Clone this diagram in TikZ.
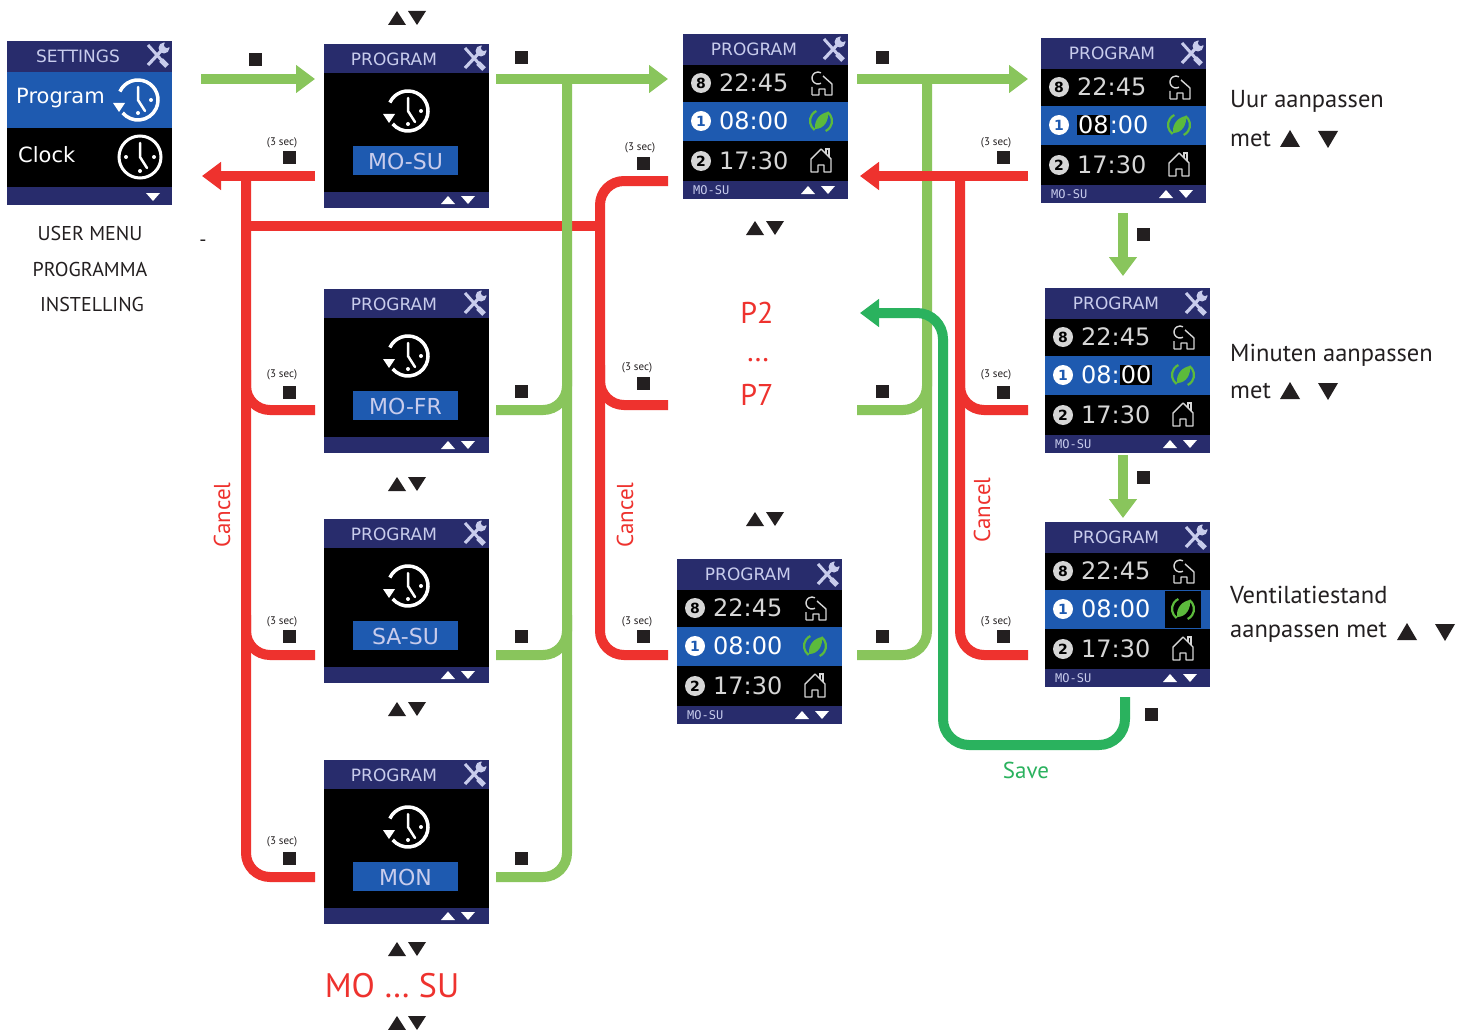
\documentclass[tikz,border=0pt]{standalone}
\usepackage{fontspec}
\setmainfont{PT Sans}
\newfontfamily\scrf{DejaVu Sans}
\newfontfamily\scrmono{DejaVu Sans Mono}
\usetikzlibrary{arrows.meta}
\definecolor{navy}{RGB}{40,44,108}
\definecolor{scrblue}{RGB}{30,90,176}
\definecolor{lav}{RGB}{200,204,236}
\definecolor{lgreen}{RGB}{137,197,92}
\definecolor{dgreen}{RGB}{42,178,94}
\definecolor{redc}{RGB}{238,50,46}
\definecolor{txtgrey}{RGB}{214,214,214}
\definecolor{leafg}{RGB}{92,186,60}
\definecolor{ink}{RGB}{35,31,32}
\tikzset{
  scr/.style={anchor=north west,minimum width=165pt,minimum height=165pt,inner sep=0pt,draw=none},
  hdr/.style={font=\scrf\fontsize{17}{17}\selectfont,text=lav,inner sep=0pt},
  tm/.style={font=\scrf\fontsize{24}{24}\selectfont,inner sep=0pt,anchor=west},
  lblp/.style={font=\scrf\fontsize{22}{22}\selectfont,text=lav,inner sep=0pt},
  mono/.style={font=\scrmono\fontsize{12}{12}\selectfont,text=lav,inner sep=0pt,anchor=west},
  lg/.style={draw=lgreen,line width=10pt,rounded corners=24pt},
  rd/.style={draw=redc,line width=10pt,rounded corners=24pt},
  dg/.style={draw=dgreen,line width=10pt,rounded corners=26pt},
  tip/.style={-{Triangle[length=19pt,width=27pt]}},
  sq/.style={fill=ink,minimum size=13pt,inner sep=0pt},
  sec/.style={font=\fontsize{11}{11}\selectfont,text=ink,inner sep=0pt},
  side/.style={font=\fontsize{24.5}{24.5}\selectfont,text=ink,inner sep=0pt,anchor=west},
  menu/.style={font=\fontsize{20}{20}\selectfont,text=ink,inner sep=0pt},
  redt/.style={font=\fontsize{30}{30}\selectfont,text=redc,inner sep=0pt},
  cancel/.style={font=\fontsize{23}{23}\selectfont,text=redc,inner sep=0pt,rotate=90},
}
\newcommand\hlbx[1]{{\setlength{\fboxsep}{1pt}\colorbox{black}{#1}}}
\newcommand\wrenchico[2]{\begin{scope}[shift={(#1,#2)}]
  \draw[lav,line width=3pt] (-9,-10) -- (8,9);
  \draw[lav,line width=5pt] (4,5) -- (10,11);
  \draw[lav,line width=3.2pt] (-9,10) -- (5,-5);
  \fill[lav] (7,-7) circle (5.5);
  \fill[navy] (10,-10) circle (3);
\end{scope}}
\newcommand\pclock[2]{\begin{scope}[shift={(#1,#2)}]
  \draw[white,line width=3.5pt] (205:20) arc[start angle=205,end angle=500,radius=20];
  \fill[white] (-25,3) -- (-13,3) -- (-19,12) -- cycle;
  \draw[white,line width=2.5pt,line cap=round] (0,-13) -- (0,0) -- (7,11);
  \fill[white] (13,0) circle (2) (0,13) circle (2);
\end{scope}}
\newcommand\sclock[2]{\begin{scope}[shift={(#1,#2)}]
  \draw[white,line width=3pt] (0,0) circle (21);
  \draw[white,line width=2.5pt,line cap=round] (0,-14) -- (0,0) -- (7,11);
  \fill[white] (14,0) circle (2) (0,14) circle (2) (-14,0) circle (2);
\end{scope}}
\newcommand\cdigit[5]{\fill[#3] (#1,#2) circle (10);
  \node[font=\scrf\bfseries\fontsize{14}{14}\selectfont,text=#4,inner sep=0pt] at (#1,#2) {#5};}
\newcommand\househ[2]{\begin{scope}[shift={(#1,#2)}]
  \draw[txtgrey,line width=1.4pt,line join=round] (-10,12) -- (-10,-1) -- (0,-11) -- (10,-1) -- (10,12) -- (3,12) -- (3,5) -- (-3,5) -- (-3,12) -- cycle;
  \draw[txtgrey,line width=1.4pt] (5,-6) -- (5,-11) -- (8,-11) -- (8,-3);
\end{scope}}
\newcommand\moonhouse[2]{\begin{scope}[shift={(#1,#2)}]
  \draw[txtgrey,line width=1.4pt,line join=round] (-10,12) -- (-10,4) (1,-7) -- (10,1) -- (10,12) -- (3,12) -- (3,6) -- (-3,6) -- (-3,12) -- (-10,12);
  \draw[txtgrey,line width=1.4pt] (-1,0.2) arc[start angle=60,end angle=300,radius=6];
\end{scope}}
\newcommand\leafico[2]{\begin{scope}[shift={(#1,#2)}]
  \draw[leafg,line width=2.2pt] (125:11) arc[start angle=125,end angle=245,radius=11];
  \draw[leafg,line width=2.2pt] (-55:11) arc[start angle=-55,end angle=65,radius=11];
  \fill[leafg] (-6,8) .. controls (-7,-2) and (0,-8) .. (7,-9) .. controls (8,0) and (3,8) .. (-6,8) -- cycle;
\end{scope}}
\newcommand\footud[2]{\begin{scope}[shift={(#1,#2)}]
  \fill[white] (-7,4) -- (7,4) -- (0,-4) -- cycle;
  \fill[white] (13,-4) -- (27,-4) -- (20,4) -- cycle;
\end{scope}}
\newcommand\udind[2]{\begin{scope}[shift={(#1,#2)}]
  \fill[ink] (-19,7) -- (-1,7) -- (-10,-7) -- cycle;
  \fill[ink] (1,-7) -- (19,-7) -- (10,7) -- cycle;
\end{scope}}
\newcommand\uptri[2]{\fill[ink] ({#1-10},{#2+8}) -- ({#1+10},{#2+8}) -- (#1,{#2-9}) -- cycle;}
\newcommand\dntri[2]{\fill[ink] ({#1-10},{#2-8}) -- ({#1+10},{#2-8}) -- (#1,{#2+9}) -- cycle;}
\newcommand\tscreen[4]{\begin{scope}[shift={(#2,#3)}]
  \node[scr] (#1) at (0,0) {};
  \fill[navy] (0,0) rectangle (165,165);
  \fill[black] (0,31) rectangle (165,147);
  \fill[scrblue] (0,68) rectangle (165,107);
  \node[hdr] at (71,15) {PROGRAM};
  \wrenchico{150}{15}
  \cdigit{18}{49}{txtgrey}{black}{8}
  \cdigit{18}{87}{white}{scrblue}{1}
  \cdigit{18}{127}{txtgrey}{black}{2}
  \node[tm,text=txtgrey] at (36,49) {22:45};
  \node[tm,text=white] at (36,87) {\ifcase#4 08:00\or\hlbx{08}:00\or 08:\hlbx{00}\or 08:00\fi};
  \node[tm,text=txtgrey] at (36,127) {17:30};
  \ifnum#4=3 \fill[black] (120,69) rectangle (156,106);\fi
  \moonhouse{139}{49}
  \leafico{138}{87}
  \househ{138}{126}
  \node[mono] at (10,156) {MO-SU};
  \footud{125}{156}
\end{scope}}
\newcommand\pscreen[4]{\begin{scope}[shift={(#2,#3)}]
  \node[scr] (#1) at (0,0) {};
  \fill[navy] (0,0) rectangle (165,164);
  \fill[black] (0,29) rectangle (165,148);
  \node[hdr] at (70,15) {PROGRAM};
  \wrenchico{150}{14}
  \pclock{84}{67}
  \fill[scrblue] (29,102) rectangle (134,131);
  \node[lblp,text=lav] at (81.5,117) {#4};
  \footud{124}{156}
\end{scope}}
\begin{document}
\begin{tikzpicture}[x=1pt,y=-1pt]
\useasboundingbox (0,0) rectangle (1472,1030);
\fill[white] (0,0) rectangle (1472,1030);
% ---------- screens
\begin{scope}[shift={(7,41)}]
  \node[scr] (set) at (0,0) {};
  \fill[navy] (0,0) rectangle (165,164);
  \fill[scrblue] (0,31) rectangle (165,87);
  \fill[black] (0,87) rectangle (165,146);
  \node[hdr] at (71,15) {SETTINGS};
  \wrenchico{150}{14}
  \node[font=\scrf\fontsize{21}{21}\selectfont,text=white,inner sep=0pt,anchor=west] at (9,57) {Program};
  \pclock{131}{59}
  \node[font=\scrf\fontsize{21}{21}\selectfont,text=white,inner sep=0pt,anchor=west] at (11,114) {Clock};
  \sclock{133}{116}
  \fill[white] (139,152) -- (153,152) -- (146,160) -- cycle;
\end{scope}
\pscreen{p1}{324}{44}{MO-SU}
\pscreen{p2}{324}{289}{MO-FR}
\pscreen{p3}{324}{519}{SA-SU}
\pscreen{p4}{324}{760}{MON}
\tscreen{t1}{683}{34}{0}
\tscreen{t2}{677}{559}{0}
\tscreen{t3}{1041}{38}{1}
\tscreen{t4}{1045}{288}{2}
\tscreen{t5}{1045}{522}{3}
% ---------- red, left part
\draw[rd] (246,176) -- (246,877) -- (315,877);
\draw[rd] (315,410) -- (246,410) -- (246,370);
\draw[rd] (315,655) -- (246,655) -- (246,615);
\draw[rd] (246,226) -- (600,226);
\draw[rd] (668,181) -- (600,181) -- (600,655) -- (668,655);
\draw[rd] (668,405) -- (600,405) -- (600,365);
\draw[rd,tip] (315,176) -- (202,176);
% ---------- light green
\draw[lg] (567,79) -- (567,877) -- (496,877);
\draw[lg] (496,410) -- (567,410) -- (567,370);
\draw[lg] (496,655) -- (567,655) -- (567,615);
\draw[lg,tip] (201,79) -- (315,79);
\draw[lg,tip] (496,79) -- (668,79);
\draw[lg] (927,79) -- (927,655) -- (857,655);
\draw[lg] (857,410) -- (927,410) -- (927,370);
\draw[lg,tip] (857,79) -- (1028,79);
\draw[lg,tip] (1123,213) -- (1123,276);
\draw[lg,tip] (1123,455) -- (1123,518);
% ---------- red, right part
\draw[rd] (960,176) -- (960,655) -- (1028,655);
\draw[rd] (1028,410) -- (960,410) -- (960,370);
\draw[rd,tip] (1028,176) -- (860,176);
% ---------- save
\draw[dg,tip] (1125,697) -- (1125,745) -- (943,745) -- (943,313) -- (860,313);
% ---------- key squares
\foreach \x/\y in {255/60,521/58,882/58,1143/234,1143/477,521/391,882/391,521/636,882/636,521/858,1151/714,
  289/157,643/163,1003/157,289/392,643/383,1003/392,289/636,643/636,1003/636,289/858}
  \node[sq] at (\x,\y) {};
\foreach \x/\y in {282/143,640/148,996/143,282/375,637/368,996/375,282/622,637/622,996/622,282/842}
  \node[sec] at (\x,\y) {(3 sec)};
% ---------- up/down indicators
\udind{407}{18}
\udind{765}{228}
\udind{407}{484}
\udind{765}{519}
\udind{407}{709}
\udind{407}{949}
\udind{407}{1023}
% ---------- texts
\node[menu] (um) at (90,233) {USER MENU};
\node[menu] (pgm) at (90,269) {PROGRAMMA};
\node[menu] (ins) at (92,304) {INSTELLING};
\node[menu] (dash) at (203,243) {-};
\node[redt] (pa) at (757,313) {P2};
\node[redt] (pb) at (758,360) {…};
\node[redt] (pc) at (757,395) {P7};
\node[redt,font=\fontsize{34}{34}\selectfont] (mosu) at (392,986) {MO … SU};
\node[cancel] (c1) at (222,515) {Cancel};
\node[cancel] (c2) at (625,515) {Cancel};
\node[cancel] (c3) at (982,510) {Cancel};
\node[font=\fontsize{23}{23}\selectfont,text=dgreen,inner sep=0pt] (save) at (1026,770) {Save};
\node[side] (r1) at (1230,101) {Uur aanpassen};
\node[side] (r2) at (1230,139) {met};
\uptri{1290}{139}\dntri{1328}{139}
\node[side] (r3) at (1230,355) {Minuten aanpassen};
\node[side] (r4) at (1230,391) {met};
\uptri{1290}{391}\dntri{1328}{391}
\node[side] (r5) at (1230,595) {Ventilatiestand};
\node[side] (r6) at (1230,632) {aanpassen met};
\uptri{1407}{632}\dntri{1445}{632}
\end{tikzpicture}
\end{document}
